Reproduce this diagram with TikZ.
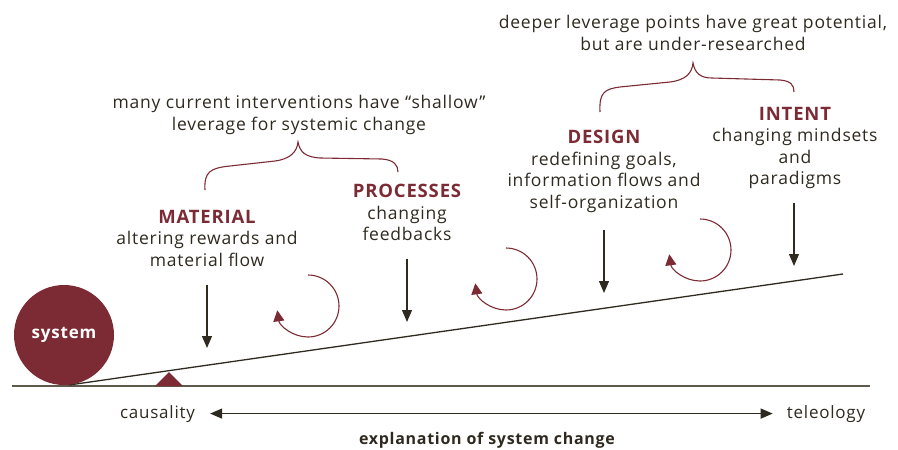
\documentclass[tikz,border=0pt]{standalone}
\usepackage{fontspec}
\setmainfont{Open Sans}[LetterSpace=4.5]
\usetikzlibrary{arrows.meta}
\definecolor{wine}{HTML}{7C2A34}
\definecolor{ink}{HTML}{2E2A1F}
\definecolor{ground}{HTML}{5E5A4C}
\newcommand{\lever}[1]{\textcolor{wine}{\fontsize{18.5}{21.5}\selectfont\bfseries #1}}
\tikzset{
  txt/.style={text=ink,inner sep=0pt,align=center,anchor=north,
    font=\fontsize{17.5}{21.5}\selectfont},
  push/.style={draw=ink,line width=1.2pt,-{Triangle[width=10pt,length=12pt]}},
  loop/.style={draw=wine,line width=1.1pt,-{Triangle[width=11pt,length=11pt]}},
  brace/.style={draw=wine,line width=1.1pt},
}
\begin{document}
\begin{tikzpicture}[x=1pt,y=-1pt]
\useasboundingbox (0,0) rectangle (898,450);
% ground, lever and fulcrum
\draw[ground,line width=2pt] (12,386) -- (870,386);
\fill[wine] (155,386) -- (169,372) -- (183,386) -- cycle;
\coordinate (pivot) at (69,385);
\coordinate (tip) at (843,274);
\draw[ink,line width=1.3pt] (pivot) -- (tip);
\node[circle,fill=wine,minimum size=100pt,inner sep=0pt,text=white,
  font=\fontsize{17}{18}\selectfont\bfseries] (sys) at (64,335) {system};

% the four levers
\node[txt] (mat) at (207,210) {\lever{MATERIAL}\\altering rewards and\\material flow};
\node[txt] (proc) at (407,184) {\lever{PROCESSES}\\changing\\feedbacks};
\node[txt] (des) at (604,130) {\lever{DESIGN}\\redefining goals,\\information flows and\\self-organization};
\node[txt] (int) at (795,107) {\lever{INTENT}\\changing mindsets\\and\\paradigms};

\coordinate (mat1) at (207,285);  \coordinate (mat2) at (207,348);
\coordinate (proc1) at (407,259); \coordinate (proc2) at (407,322);
\coordinate (des1) at (604,230);  \coordinate (des2) at (604,293);
\coordinate (int1) at (794,203);  \coordinate (int2) at (794,266);
\draw[push] (mat1) -- (mat2);
\draw[push] (proc1) -- (proc2);
\draw[push] (des1) -- (des2);
\draw[push] (int1) -- (int2);

% feedback loops
\coordinate (l1) at (308,306);
\coordinate (l2) at (506,279);
\coordinate (l3) at (700,250);
\draw[loop] (l1) ++(-90:31) arc[start angle=-90,end angle=172,radius=31];
\draw[loop] (l2) ++(-90:31) arc[start angle=-90,end angle=172,radius=31];
\draw[loop] (l3) ++(-90:31) arc[start angle=-90,end angle=172,radius=31];

% braces and notes
\node[txt] (shallow) at (299,95.5) {many current interventions have “shallow”\\leverage for systemic change};
\node[txt] (deep) at (693,15.5) {deeper leverage points have great potential,\\but are under-researched};
\draw[brace] (205,190) .. controls (204,172) and (210,168) .. (230,166) -- (275,161)
  .. controls (290,159) and (297,152) .. (298,142)
  .. controls (300,152) and (305,157) .. (320,158) -- (382,159)
  .. controls (394,160) and (398,165) .. (398,172);
\draw[brace] (600,112) .. controls (599,92) and (605,89) .. (620,87) -- (670,82)
  .. controls (686,80) and (692,73) .. (693,63)
  .. controls (695,73) and (700,78) .. (712,78) -- (780,80)
  .. controls (791,81) and (794,85) .. (794,92);

% explanation axis
\node[txt,anchor=base,font=\fontsize{17}{18}\selectfont] (cause) at (157.5,418) {causality};
\node[txt,anchor=base,font=\fontsize{17}{18}\selectfont] (telos) at (826,418) {teleology};
\node[txt,anchor=base,font=\fontsize{16}{18}\selectfont\bfseries] (expl) at (487,444) {explanation of system change};
\draw[ink,line width=1.2pt,{Triangle[width=10pt,length=12pt]}-{Triangle[width=10pt,length=12pt]},
  shorten <=15pt,shorten >=14pt] (cause.east) -- (telos.west);
\end{tikzpicture}
\end{document}
